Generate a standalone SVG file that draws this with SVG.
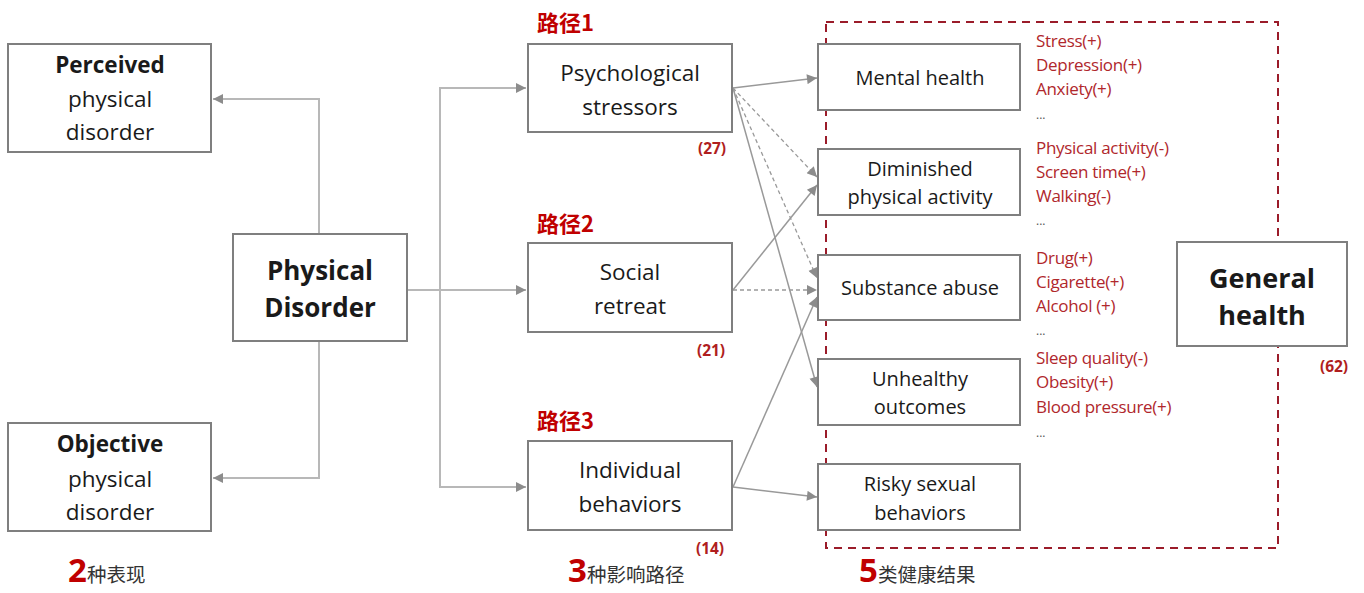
<svg xmlns="http://www.w3.org/2000/svg" width="1364" height="593" viewBox="0 0 1364 593">
  <style>
    .box { fill: #ffffff; stroke: #7f7f7f; stroke-width: 2; }
    .t { font-family: "Open Sans", "Noto Sans", "Liberation Sans", sans-serif; fill: #1a1a1a; text-anchor: middle; dominant-baseline: central; }
    .b { font-weight: bold; }
    .mid { font-size: 22.5px; }
    .side { font-size: 22.5px; }
    .right { font-size: 20px; }
    .big { font-size: 26px; font-weight: bold; }
    .path-label { font-family: "Noto Sans CJK SC", "Noto Sans", sans-serif; font-size: 22px; font-weight: bold; fill: #c00000; dominant-baseline: central; }
    .count { font-family: "Open Sans", "Liberation Sans", sans-serif; font-size: 15.5px; font-weight: bold; fill: #b01e1e; text-anchor: middle; dominant-baseline: central; }
    .item { font-family: "Open Sans", "Liberation Sans", sans-serif; font-size: 17px; letter-spacing: -0.3px; fill: #b0272c; dominant-baseline: central; }
    .dots { font-family: "Open Sans", "Liberation Sans", sans-serif; font-size: 12px; fill: #555555; dominant-baseline: central; }
    .num { font-family: "Open Sans", "Liberation Sans", sans-serif; font-size: 33px; font-weight: bold; fill: #c00000; }
    .cap { font-family: "Noto Sans CJK SC", sans-serif; font-size: 19.5px; fill: #333333; }
    .elbow { fill: none; stroke: #b8b8b8; stroke-width: 2; }
    .link { fill: none; stroke: #999999; stroke-width: 1.5; }
    .dash { fill: none; stroke: #999999; stroke-width: 1.3; stroke-dasharray: 4 3; }
    .group-frame { fill: none; stroke: #9b1c2a; stroke-width: 2; stroke-dasharray: 8 6; }
  </style>
  <defs>
    <marker id="arrow" viewBox="0 0 10 10" refX="10" refY="5" markerWidth="12" markerHeight="10" markerUnits="userSpaceOnUse" orient="auto">
      <path d="M0,0 L10,5 L0,10 z" fill="#8c8c8c"/>
    </marker>
  </defs>

  <rect width="1364" height="593" fill="#ffffff"/>

  <!-- outcome grouping frame -->
  <rect class="group-frame" x="826" y="22" width="452" height="526"/>

  <!-- connectors -->
  <g id="connectors">
    <path class="elbow" d="M319,234 V99 H213" marker-end="url(#arrow)"/>
    <path class="elbow" d="M319,341 V478 H213" marker-end="url(#arrow)"/>
    <path class="elbow" d="M407,290 H526" marker-end="url(#arrow)"/>
    <path class="elbow" d="M440,290 V88 H526" marker-end="url(#arrow)"/>
    <path class="elbow" d="M440,290 V487 H526" marker-end="url(#arrow)"/>

    <path class="link" d="M733,88 L817,78" marker-end="url(#arrow)"/>
    <path class="dash" d="M733,88 L817,177" marker-end="url(#arrow)"/>
    <path class="dash" d="M733,88 L817,278" marker-end="url(#arrow)"/>
    <path class="link" d="M733,88 L817,387" marker-end="url(#arrow)"/>

    <path class="link" d="M733,290 L817,185" marker-end="url(#arrow)"/>
    <path class="dash" d="M733,290 L817,290" marker-end="url(#arrow)"/>

    <path class="link" d="M733,487 L817,297" marker-end="url(#arrow)"/>
    <path class="link" d="M733,487 L817,497" marker-end="url(#arrow)"/>
  </g>

  <!-- forms of physical disorder -->
  <g id="perceived">
    <rect class="box" x="8" y="44" width="203" height="108"/>
    <text class="t side b" x="110" y="64">Perceived</text>
    <text class="t side" x="110" y="98">physical</text>
    <text class="t side" x="110" y="131">disorder</text>
  </g>
  <g id="objective">
    <rect class="box" x="8" y="423" width="203" height="108"/>
    <text class="t side b" x="110" y="443">Objective</text>
    <text class="t side" x="110" y="478">physical</text>
    <text class="t side" x="110" y="511">disorder</text>
  </g>
  <g id="physical-disorder">
    <rect class="box" x="233" y="234" width="174" height="107"/>
    <text class="t big" x="320" y="270">Physical</text>
    <text class="t big" x="320" y="307">Disorder</text>
  </g>

  <!-- pathways -->
  <g id="psychological">
    <text class="path-label" x="537" y="21">路径1</text>
    <rect class="box" x="528" y="44" width="204" height="88"/>
    <text class="t mid" x="630" y="72">Psychological</text>
    <text class="t mid" x="630" y="106">stressors</text>
    <text class="count" x="712" y="148">(27)</text>
  </g>
  <g id="social">
    <text class="path-label" x="537" y="222">路径2</text>
    <rect class="box" x="528" y="243" width="204" height="89"/>
    <text class="t mid" x="630" y="271">Social</text>
    <text class="t mid" x="630" y="305">retreat</text>
    <text class="count" x="711" y="350">(21)</text>
  </g>
  <g id="individual">
    <text class="path-label" x="537" y="419">路径3</text>
    <rect class="box" x="528" y="441" width="204" height="89"/>
    <text class="t mid" x="630" y="469">Individual</text>
    <text class="t mid" x="630" y="503">behaviors</text>
    <text class="count" x="710" y="548">(14)</text>
  </g>

  <!-- health outcomes -->
  <g id="mental-health">
    <rect class="box" x="818" y="44" width="202" height="66"/>
    <text class="t right" x="920" y="77">Mental health</text>
    <text class="item" x="1036" y="40">Stress(+)</text>
    <text class="item" x="1036" y="64">Depression(+)</text>
    <text class="item" x="1036" y="88">Anxiety(+)</text>
    <text class="dots" x="1036" y="114">...</text>
  </g>
  <g id="physical-activity">
    <rect class="box" x="818" y="149" width="202" height="66"/>
    <text class="t right" x="920" y="168">Diminished</text>
    <text class="t right" x="920" y="196">physical activity</text>
    <text class="item" x="1036" y="147">Physical activity(-)</text>
    <text class="item" x="1036" y="171">Screen time(+)</text>
    <text class="item" x="1036" y="195">Walking(-)</text>
    <text class="dots" x="1036" y="220">...</text>
  </g>
  <g id="substance-abuse">
    <rect class="box" x="818" y="255" width="202" height="65"/>
    <text class="t right" x="920" y="287">Substance abuse</text>
    <text class="item" x="1036" y="257">Drug(+)</text>
    <text class="item" x="1036" y="281">Cigarette(+)</text>
    <text class="item" x="1036" y="305">Alcohol (+)</text>
    <text class="dots" x="1036" y="330">...</text>
  </g>
  <g id="unhealthy-outcomes">
    <rect class="box" x="818" y="359" width="202" height="66"/>
    <text class="t right" x="920" y="378">Unhealthy</text>
    <text class="t right" x="920" y="406">outcomes</text>
    <text class="item" x="1036" y="357">Sleep quality(-)</text>
    <text class="item" x="1036" y="381">Obesity(+)</text>
    <text class="item" x="1036" y="406">Blood pressure(+)</text>
    <text class="dots" x="1036" y="432">...</text>
  </g>
  <g id="risky-sexual">
    <rect class="box" x="818" y="464" width="202" height="66"/>
    <text class="t right" x="920" y="483">Risky sexual</text>
    <text class="t right" x="920" y="512">behaviors</text>
  </g>
  <g id="general-health">
    <rect class="box" x="1177" y="242" width="170" height="104"/>
    <text class="t" x="1262" y="277" style="font-size:27px;font-weight:bold">General</text>
    <text class="t" x="1262" y="314" style="font-size:27px;font-weight:bold">health</text>
    <text class="count" x="1334" y="366">(62)</text>
  </g>

  <!-- column captions -->
  <g id="captions">
    <text x="68" y="582"><tspan class="num">2</tspan><tspan class="cap">种表现</tspan></text>
    <text x="568" y="582"><tspan class="num">3</tspan><tspan class="cap">种影响路径</tspan></text>
    <text x="859" y="582"><tspan class="num">5</tspan><tspan class="cap">类健康结果</tspan></text>
  </g>
</svg>
